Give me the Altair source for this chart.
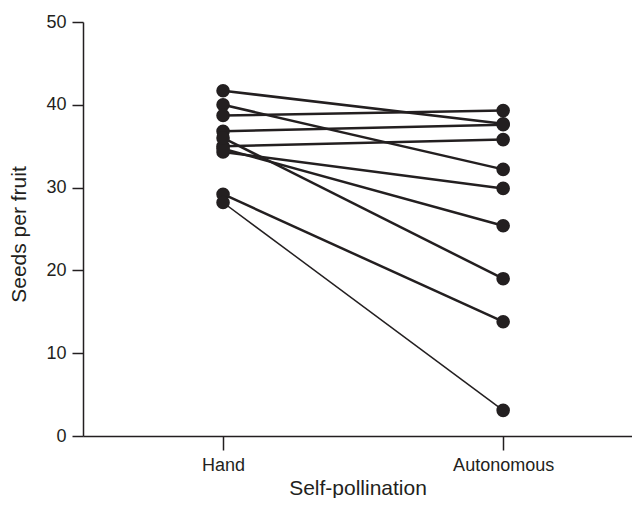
import altair as alt
import pandas as pd

categories = ["Hand", "Autonomous"]
hand = [41.7, 40.0, 38.7, 36.8, 35.0, 34.3, 34.7, 36.0, 29.2, 28.2]
autonomous = [37.7, 32.2, 39.3, 37.6, 35.8, 29.9, 25.4, 19.0, 13.8, 3.1]

rows = []
for i, (h, a) in enumerate(zip(hand, autonomous)):
    rows.append({"pair": i, "pos": 1, "treatment": categories[0], "seeds": h})
    rows.append({"pair": i, "pos": 2, "treatment": categories[1], "seeds": a})
df = pd.DataFrame(rows)

ink = "#231f20"
font = "Liberation Sans"

x = alt.X("pos:Q",
          scale=alt.Scale(domain=[0.5, 2.46], nice=False, zero=False),
          axis=alt.Axis(values=[1, 2], title="Self-pollination",
                        labelExpr="datum.value == 1 ? 'Hand' : 'Autonomous'",
                        grid=False, tickSize=14, labelPadding=6,
                        titleY=58, titleBaseline="alphabetic"))
y = alt.Y("seeds:Q",
          scale=alt.Scale(domain=[0, 50], nice=False),
          axis=alt.Axis(values=[0, 10, 20, 30, 40, 50], title="Seeds per fruit",
                        grid=False, tickSize=11, labelPadding=6,
                        titleX=-58, titleY=212, titleBaseline="alphabetic"))

lines = alt.Chart(df).mark_line(color=ink).encode(
    x=x, y=y, detail="pair:N",
    strokeWidth=alt.condition(alt.datum.pair == 9, alt.value(1.5), alt.value(2.5)),
)
points = alt.Chart(df).mark_circle(color=ink, opacity=1, size=185).encode(x=x, y=y)

chart = (lines + points).properties(
    width=549, height=414,
    autosize=alt.AutoSizeParams(type="none"),
    padding={"left": 75, "top": 14, "right": 0, "bottom": 62},
).configure_view(stroke=None).configure_axis(
    domainColor=ink, tickColor=ink, labelColor=ink, titleColor=ink,
    domainWidth=1.5, tickWidth=1.5,
    labelFont=font, titleFont=font, labelFontSize=18, titleFontSize=21,
    titleFontWeight="normal",
)

chart.save("out.html", embed_options={"renderer": "svg", "actions": False})
